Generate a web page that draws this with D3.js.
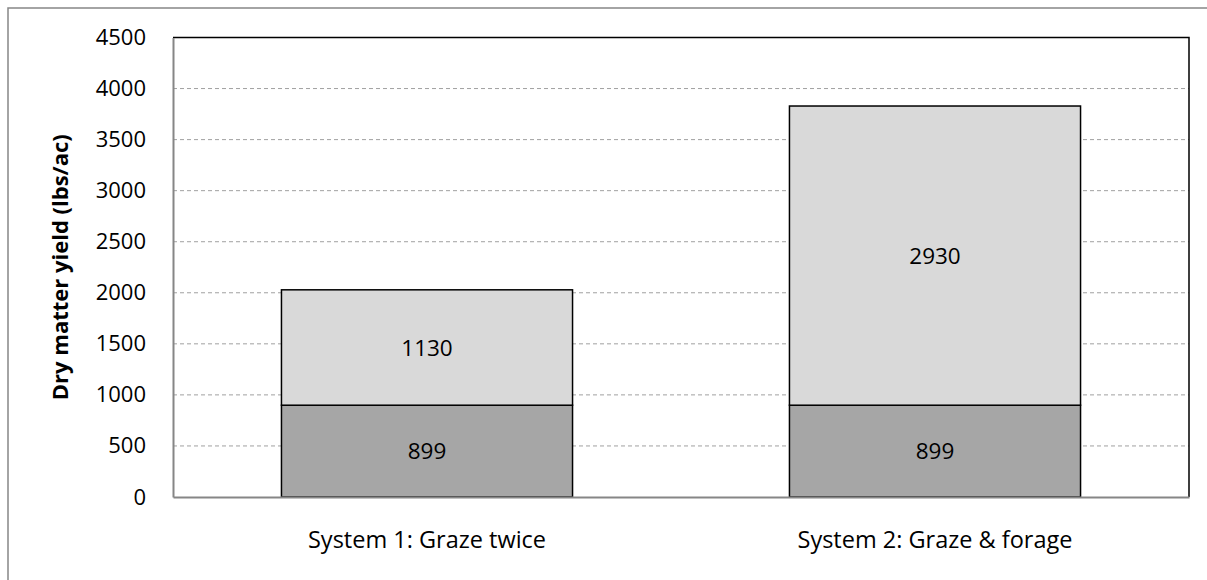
<!doctype html>
<html lang="en">
<head>
    <meta charset="utf-8">
    <script src="https://d3js.org/d3.v7.min.js"></script>
    <style>
        body { margin: 0; background: #fff; }
        svg { display: block; font-family: "Open Sans", "Noto Sans", sans-serif; }
    </style>
    <title>Dry matter yield</title>
</head>
<body>
<script>

    // data
    var categories = ["System 1: Graze twice", "System 2: Graze & forage"];
    var bottomValues = [899, 899];
    var topValues = [1130, 2930];
    var yTicks = [0, 500, 1000, 1500, 2000, 2500, 3000, 3500, 4000, 4500];
    var seriesColors = ["#a6a6a6", "#d9d9d9"];

    // set the dimensions and margins of the graph
    var W = 1207, H = 580;
    var margin = {top: 37.5, right: 18, bottom: 83, left: 173},
        width = W - margin.left - margin.right,
        height = H - margin.top - margin.bottom;

    var svg = d3.select("body").append("svg")
        .attr("width", W)
        .attr("height", H);

    // outer chart border (clipped at right and bottom)
    svg.append("rect")
        .attr("x", 8).attr("y", 8)
        .attr("width", W + 20).attr("height", H + 20)
        .attr("fill", "none")
        .attr("stroke", "#868686")
        .attr("stroke-width", 1.5);

    var g = svg.append("g")
        .attr("transform", "translate(" + margin.left + "," + margin.top + ")");

    var x = d3.scaleBand()
        .domain(categories)
        .range([0, width])
        .paddingInner(0.427)
        .paddingOuter(0.2135);
    var y = d3.scaleLinear()
        .domain([0, 4500])
        .range([height, 0]);

    // gridlines
    g.selectAll(".grid")
        .data(yTicks.filter(function(d) { return d > 0 && d < 4500; }))
        .enter().append("line")
        .attr("x1", 0).attr("x2", width)
        .attr("y1", function(d) { return y(d); })
        .attr("y2", function(d) { return y(d); })
        .attr("stroke", "#a0a0a0")
        .attr("stroke-width", 1)
        .attr("stroke-dasharray", "4,3");

    // plot area border top/right
    g.append("path")
        .attr("d", "M0," + y(4500) + "H" + width + "V" + height)
        .attr("fill", "none")
        .attr("stroke", "#000")
        .attr("stroke-width", 1.5);

    // stacked bars
    var stacks = categories.map(function(c, i) {
        return [
            {cat: c, y0: 0, y1: bottomValues[i], v: bottomValues[i], color: seriesColors[0]},
            {cat: c, y0: bottomValues[i], y1: bottomValues[i] + topValues[i], v: topValues[i], color: seriesColors[1]}
        ];
    });
    var segs = [].concat.apply([], stacks);

    g.selectAll(".bar")
        .data(segs)
        .enter().append("rect")
        .attr("class", "bar")
        .attr("x", function(d) { return x(d.cat); })
        .attr("width", x.bandwidth())
        .attr("y", function(d) { return y(d.y1); })
        .attr("height", function(d) { return y(d.y0) - y(d.y1); })
        .attr("fill", function(d) { return d.color; })
        .attr("stroke", "#000")
        .attr("stroke-width", 1.5);

    g.selectAll(".lbl")
        .data(segs)
        .enter().append("text")
        .attr("x", function(d) { return x(d.cat) + x.bandwidth() / 2; })
        .attr("y", function(d) { return (y(d.y0) + y(d.y1)) / 2; })
        .attr("dy", "0.36em")
        .attr("text-anchor", "middle")
        .attr("font-size", 22.5)
        .attr("fill", "#000")
        .text(function(d) { return d.v; });

    // y axis
    var yAxis = g.append("g")
        .call(d3.axisLeft(y).tickValues(yTicks).tickFormat(d3.format("d")).tickSize(0).tickPadding(27));
    yAxis.select(".domain").attr("stroke", "#868686").attr("stroke-width", 2);
    yAxis.selectAll("text").attr("font-size", 22).attr("font-family", "Open Sans").attr("fill", "#000");

    // x axis
    var xAxis = g.append("g")
        .attr("transform", "translate(0," + height + ")")
        .call(d3.axisBottom(x).tickSize(0).tickPadding(34));
    xAxis.select(".domain").attr("stroke", "#868686").attr("stroke-width", 2);
    xAxis.selectAll("text").attr("font-size", 23.5).attr("font-family", "Open Sans").attr("fill", "#000");

    // y label
    svg.append("text")
        .attr("transform", "translate(68," + (margin.top + height / 2) + ") rotate(-90)")
        .attr("text-anchor", "middle")
        .attr("font-size", 22)
        .attr("font-weight", "bold")
        .text("Dry matter yield (lbs/ac)");

</script>
</body>
</html>
